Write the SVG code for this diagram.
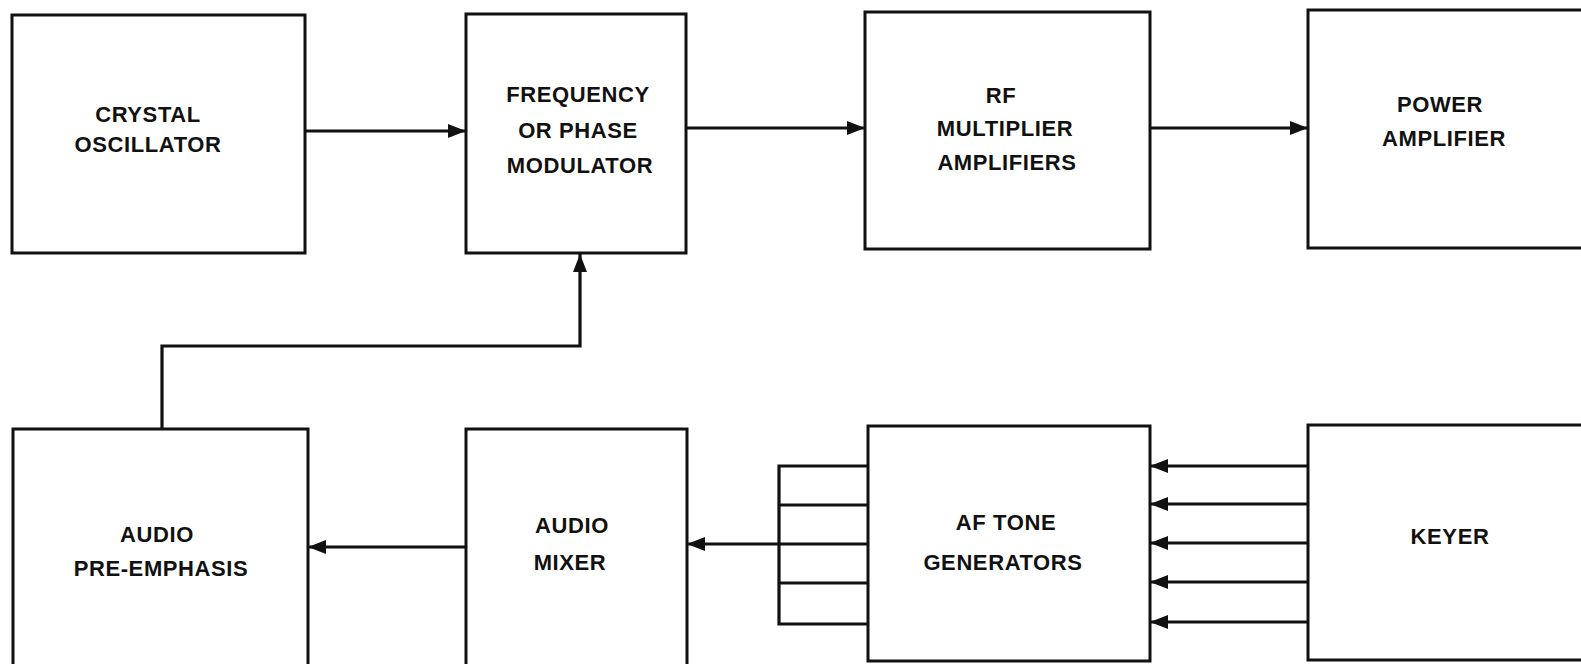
<svg xmlns="http://www.w3.org/2000/svg" width="1581" height="664" viewBox="0 0 1581 664">
<style>
.box{fill:#fff;stroke:#111;stroke-width:3}
.lbl{font-family:"Liberation Sans",Arial,sans-serif;font-weight:bold;font-size:22px;letter-spacing:0.6px;fill:#111;text-anchor:middle}
.wire{fill:none;stroke:#111;stroke-width:3.2}
.arr{marker-end:url(#ah)}
</style>
<defs>
<marker id="ah" viewBox="0 0 18 14" refX="18" refY="7" markerWidth="18" markerHeight="14" markerUnits="userSpaceOnUse" orient="auto">
<path d="M0,0 L18,7 L0,14 z" fill="#111"/>
</marker>
</defs>
<rect width="1581" height="664" fill="#fff"/>
<g id="crystal-oscillator">
<rect class="box" x="12" y="15" width="293" height="238"/>
<text class="lbl" x="148" y="122">CRYSTAL</text>
<text class="lbl" x="148" y="152">OSCILLATOR</text>
</g>
<g id="modulator">
<rect class="box" x="466" y="14" width="220" height="239"/>
<text class="lbl" x="578" y="102">FREQUENCY</text>
<text class="lbl" x="578" y="138">OR PHASE</text>
<text class="lbl" x="580" y="173">MODULATOR</text>
</g>
<g id="rf-multiplier">
<rect class="box" x="865" y="12" width="285" height="237"/>
<text class="lbl" x="1001" y="103">RF</text>
<text class="lbl" x="1005" y="136">MULTIPLIER</text>
<text class="lbl" x="1007" y="170">AMPLIFIERS</text>
</g>
<g id="power-amplifier">
<rect class="box" x="1308" y="10" width="290" height="238"/>
<text class="lbl" x="1440" y="112">POWER</text>
<text class="lbl" x="1444" y="146">AMPLIFIER</text>
</g>
<g id="audio-pre-emphasis">
<rect class="box" x="13" y="429" width="295" height="250"/>
<text class="lbl" x="157" y="542">AUDIO</text>
<text class="lbl" x="161" y="576">PRE-EMPHASIS</text>
</g>
<g id="audio-mixer">
<rect class="box" x="466" y="429" width="221" height="250"/>
<text class="lbl" x="572" y="533">AUDIO</text>
<text class="lbl" x="570" y="570">MIXER</text>
</g>
<g id="af-tone-generators">
<rect class="box" x="868" y="426" width="282" height="235"/>
<text class="lbl" x="1006" y="530">AF TONE</text>
<text class="lbl" x="1003" y="570">GENERATORS</text>
</g>
<g id="keyer">
<rect class="box" x="1308" y="425" width="290" height="235"/>
<text class="lbl" x="1450" y="544">KEYER</text>
</g>
<g id="connectors">
<line class="wire arr" x1="305" y1="131" x2="466" y2="131"/>
<line class="wire arr" x1="686" y1="128" x2="865" y2="128"/>
<line class="wire arr" x1="1150" y1="128" x2="1308" y2="128"/>
<polyline class="wire arr" points="162,429 162,346 580,346 580,254"/>
<line class="wire arr" x1="466" y1="547" x2="308" y2="547"/>
<polyline class="wire" points="868,466 779,466 779,624 868,624"/>
<line class="wire" x1="779" y1="505" x2="868" y2="505"/>
<line class="wire" x1="779" y1="583" x2="868" y2="583"/>
<line class="wire" x1="868" y1="544" x2="779" y2="544"/>
<line class="wire arr" x1="779" y1="544" x2="687" y2="544"/>
<line class="wire arr" x1="1308" y1="466" x2="1150" y2="466"/>
<line class="wire arr" x1="1308" y1="504" x2="1150" y2="504"/>
<line class="wire arr" x1="1308" y1="543" x2="1150" y2="543"/>
<line class="wire arr" x1="1308" y1="582" x2="1150" y2="582"/>
<line class="wire arr" x1="1308" y1="622" x2="1150" y2="622"/>
</g>
</svg>
